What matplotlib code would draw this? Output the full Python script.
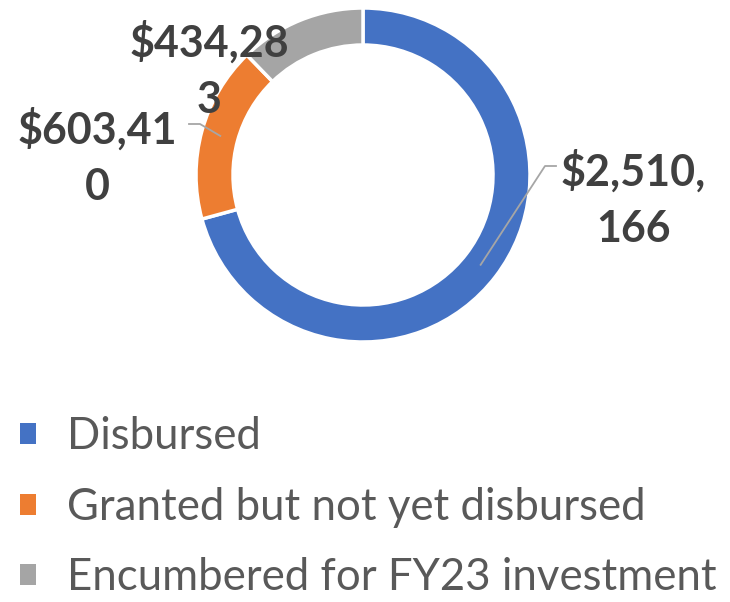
import numpy as np
import matplotlib
matplotlib.use("Agg")
import matplotlib.pyplot as plt
from matplotlib.patches import Patch

categories = ["Disbursed", "Granted but not yet disbursed", "Encumbered for FY23 investment"]
amounts = [2510166, 603410, 434283]
value_labels = ["$2,510,\n166", "$603,41\n0", "$434,28\n3"]
colors = ["#4472C4", "#ED7D31", "#A5A5A5"]

plt.rcParams["font.family"] = ["Lato", "DejaVu Sans"]

W, H = 730, 602
fig = plt.figure(figsize=(W / 100, H / 100), dpi=100)
ax = fig.add_axes([0, 0, 1, 1])

cx, cy, r = 363, H - 175, 167
wedges, _ = ax.pie(amounts, colors=colors, startangle=90, counterclock=False,
                   center=(cx, cy), radius=r,
                   wedgeprops=dict(width=37, edgecolor="white", linewidth=2.5))
ax.set_xlim(0, W)
ax.set_ylim(0, H)
ax.set_aspect("equal")
ax.axis("off")

# label positions (pixels from top-left) and leader line elbows
label_pos = [(633, 199), (97, 157), (209, 70)]
elbows = [[(545, 166), (556, 166)], [(200, 124), (189, 124)], None]
for w, txt, (lx, ly), elb in zip(wedges, value_labels, label_pos, elbows):
    ang = np.deg2rad((w.theta1 + w.theta2) / 2)
    rm = r - 19
    px, py = cx + rm * np.cos(ang), cy + rm * np.sin(ang)
    if elb is not None:
        xs = [px] + [e[0] for e in elb]
        ys = [py] + [H - e[1] for e in elb]
        ax.plot(xs, ys, color="#A6A6A6", lw=1.3, zorder=3)
    ax.text(lx, H - ly, txt, ha="center", va="center", fontsize=31,
            fontweight="bold", color="#404040", linespacing=1.5, zorder=4)

handles = [Patch(facecolor=c, edgecolor="none") for c in colors]
fig.legend(handles, categories, loc="upper left", bbox_to_anchor=(20 / W, 1 - 416 / H),
           frameon=False, fontsize=31.5, labelcolor="#595959",
           borderpad=0, borderaxespad=0,
           handlelength=0.36, handleheight=0.36, handletextpad=0.72,
           labelspacing=0.68)

fig.savefig("out.png", dpi=100)
